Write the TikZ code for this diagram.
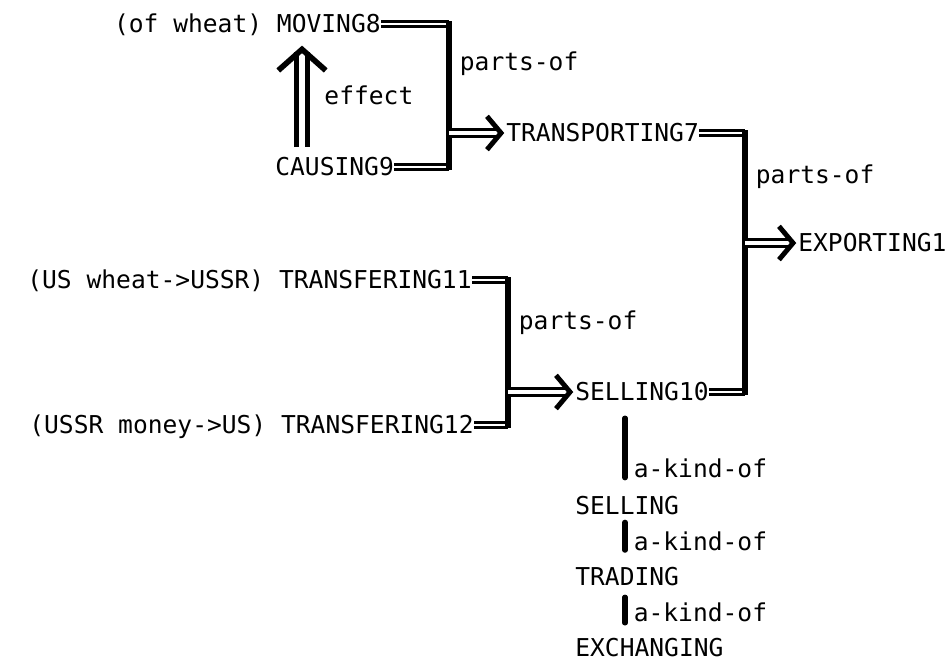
\documentclass[tikz,border=0pt]{standalone}
\usepackage{fontspec}
\setmonofont{DejaVu Sans Mono}
\usepackage{tikz}
\usetikzlibrary{arrows.meta,calc,positioning}
\tikzset{
    word/.style ={font=\ttfamily\fontsize{14}{16}\selectfont, inner sep=0pt, text height=10.2pt, text depth=0pt},
    el/.style = {word, anchor=west, xshift=4.5pt},
    link/.style ={double, line width=1.7pt, double distance=1.3pt},
    bar/.style ={line width=3.4pt, line cap=rect},
    into/.style ={double, line width=1.8pt, double distance=2pt, shorten >=1pt,
      -{Straight Barb[length=8pt,width=19pt,line width=2.8pt]}},
    effect/.style ={double, line width=2.6pt, double distance=3.6pt,
      -{Straight Barb[length=12pt,width=27pt,line width=3.2pt]}},
    kind/.style ={line width=3pt, line cap=round}
}

\begin{document}
\begin{tikzpicture}[x=0.02cm,y=-0.02cm]
  \useasboundingbox (0,0) rectangle (950,663);
  % Draw the nodes
  \node[word, anchor=east] (moving) at (381,24) {(of wheat) MOVING8};
  \node[word, anchor=west] (causing) at (275,167) {CAUSING9};
  \node[word, anchor=west] (transport) at (506,133) {TRANSPORTING7};
  \node[word, anchor=west] (exporting) at (798,243) {EXPORTING1};
  \node[word, anchor=east] (tr11) at (472,280) {(US wheat->USSR) TRANSFERING11};
  \node[word, anchor=east] (tr12) at (474,425) {(USSR money->US) TRANSFERING12};
  \node[word, anchor=west] (selling10) at (575,392) {SELLING10};
  \node[word, anchor=west] (selling) at (575,506) {SELLING};
  \node[word, anchor=west] (trading) at (575,577) {TRADING};
  \node[word, anchor=west] (exchanging) at (575,648) {EXCHANGING};

  % the joints on the bars
  \coordinate (j1) at (449,133);
  \coordinate (j2) at (745,243);
  \coordinate (j3) at (508,392);
  \coordinate (kx) at (625,0);
  \coordinate (ea) at ($(causing.north west)+(27,0)$);

  % Draw the arrows
  \draw[link] (moving.east) -- (moving.east -| j1);
  \draw[link] (causing.east) -- (causing.east -| j1);
  \draw[bar] (moving.east -| j1) -- node[el, pos=.26] {parts-of} (causing.east -| j1);
  \draw[into] (j1) -- (transport.west);

  \draw[effect, shorten <=6pt, shorten >=7pt] (ea)
    -- node[el, xshift=7pt] {effect} (ea |- moving.south);

  \draw[link] (tr11.east) -- (tr11.east -| j3);
  \draw[link] (tr12.east) -- (tr12.east -| j3);
  \draw[bar] (tr11.east -| j3) -- node[el, pos=.28] {parts-of} (tr12.east -| j3);
  \draw[into] (j3) -- (selling10.west);

  \draw[link] (transport.east) -- (transport.east -| j2);
  \draw[link] (selling10.east) -- (selling10.east -| j2);
  \draw[bar] (transport.east -| j2) -- node[el, pos=.16] {parts-of} (selling10.east -| j2);
  \draw[into] (j2) -- (exporting.west);

  \draw[kind, shorten <=9.6pt, shorten >=10.8pt] (selling10.south -| kx)
    -- node[el, pos=.7, xshift=-1pt] {a-kind-of} (selling.north -| kx);
  \draw[kind, shorten <=4pt, shorten >=10pt] (selling.south -| kx)
    -- node[el, pos=.51, xshift=-1pt] {a-kind-of} (trading.north -| kx);
  \draw[kind, shorten <=6.2pt, shorten >=9pt] (trading.south -| kx)
    -- node[el, pos=.51, xshift=-1pt] {a-kind-of} (exchanging.north -| kx);
\end{tikzpicture}
\end{document}
